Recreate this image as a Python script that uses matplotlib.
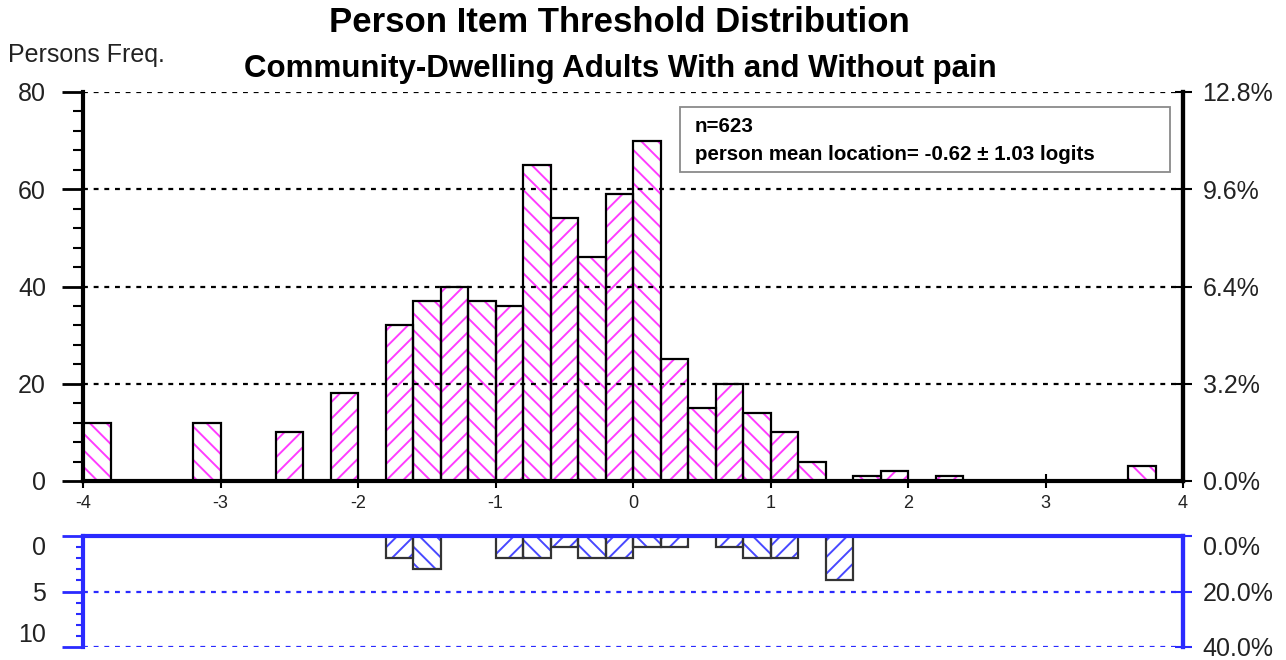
import matplotlib
matplotlib.use("Agg")
import matplotlib.pyplot as plt
from matplotlib.patches import Rectangle
from matplotlib.ticker import MultipleLocator

plt.rcParams['font.family'] = ['Liberation Sans', 'DejaVu Sans']
plt.rcParams['hatch.linewidth'] = 1.4

# ---- data ----
person_bins = [-4.0, -3.2, -2.6, -2.2, -1.8, -1.6, -1.4, -1.2, -1.0, -0.8, -0.6, -0.4,
               -0.2, 0.0, 0.2, 0.4, 0.6, 0.8, 1.0, 1.2, 1.6, 1.8, 2.2, 3.6]
person_counts = [12, 12, 10, 18, 32, 37, 40, 37, 36, 65, 54, 46,
                 59, 70, 25, 15, 20, 14, 10, 4, 1, 2, 1, 3]
item_bins = [-1.8, -1.6, -1.0, -0.8, -0.6, -0.4, -0.2, 0.0, 0.2, 0.6, 0.8, 1.0, 1.4]
item_counts = [2, 3, 2, 2, 1, 2, 2, 1, 1, 1, 2, 2, 4]
n_persons = 623
n_items = 25
x_ticks = [-4, -3, -2, -1, 0, 1, 2, 3, 4]
person_yticks = [0, 20, 40, 60, 80]
item_yticks = [0, 5, 10]
bin_width = 0.2

title = "Person Item Threshold Distribution"
subtitle = "Community-Dwelling Adults With and Without pain"
box_lines = ["n=623", "person mean location= -0.62 \u00b1 1.03 logits"]

W, H = 1286, 660
fig = plt.figure(figsize=(W / 100, H / 100), dpi=100)
PT = 0.72  # points per pixel at dpi 100

def fx(px):
    return px / W

def fy(py):
    return 1 - py / H

MAG = '#ff3cff'
BLUE = '#2a2aff'
HBLUE = '#4848ff'
LAB = '#222222'

def hatch_for(b):
    idx = int(round((b + 4) / bin_width))
    return '\\\\' if idx % 2 == 0 else '//'

# ---- top panel ----
ax1 = fig.add_axes([fx(83), fy(481), fx(1100), 389 / H])
ax1.set_xlim(-4, 4)
ax1.set_ylim(0, 80)
for b, c in zip(person_bins, person_counts):
    ax1.bar(b, c, width=bin_width, align='edge', color='white', edgecolor=MAG,
            hatch=hatch_for(b), linewidth=0, zorder=2)
ax1.bar(person_bins, person_counts, width=bin_width, align='edge', fill=False,
        edgecolor='black', linewidth=1.6, zorder=3)
for v in person_yticks[1:]:
    ax1.axhline(v, color='black', linestyle=(0, (2.2, 2.6)), linewidth=1.6, zorder=4)

ax1.spines['top'].set_visible(False)
for s in ['left', 'right', 'bottom']:
    ax1.spines[s].set_linewidth(3)
    ax1.spines[s].set_zorder(5)
ax1.set_xticks(x_ticks)
ax1.set_xticklabels([str(t) for t in x_ticks], fontsize=13, color=LAB)
ax1.tick_params(axis='x', direction='inout', length=14 * PT, width=1.5, pad=5)
ax1.set_yticks(person_yticks)
ax1.set_yticklabels([str(t) for t in person_yticks], fontsize=18, color=LAB)
ax1.yaxis.set_minor_locator(MultipleLocator(4))
ax1.tick_params(axis='y', which='major', direction='out', length=21 * PT, width=2,
                pad=16 * PT)
ax1.tick_params(axis='y', which='minor', direction='out', length=10 * PT, width=1.5)

ax1r = ax1.twinx()
ax1r.set_ylim(0, 80)
ax1r.set_yticks(person_yticks)
ax1r.set_yticklabels([f"{v / n_persons * 100:.1f}%" for v in person_yticks],
                     fontsize=18, color=LAB)
ax1r.tick_params(axis='y', direction='inout', length=17 * PT, width=1.5, pad=8)
for s in ['left', 'top', 'bottom']:
    ax1r.spines[s].set_visible(False)
ax1r.spines['right'].set_linewidth(3)

# ---- bottom panel ----
ax2 = fig.add_axes([fx(83), fy(647), fx(1100), 111 / H])
ax2.set_xlim(-4, 4)
ax2.set_ylim(10, 0)
for b, c in zip(item_bins, item_counts):
    ax2.bar(b, c, width=bin_width, align='edge', color='white', edgecolor=HBLUE,
            hatch=hatch_for(b), linewidth=0, zorder=2)
ax2.bar(item_bins, item_counts, width=bin_width, align='edge', fill=False,
        edgecolor='#333333', linewidth=1.6, zorder=3)
for v in item_yticks[1:]:
    ax2.axhline(v, color=BLUE, linestyle=(0, (2.2, 2.6)), linewidth=1.6, zorder=4)
ax2.spines['bottom'].set_visible(False)
for s in ['left', 'right', 'top']:
    ax2.spines[s].set_linewidth(3)
    ax2.spines[s].set_color(BLUE)
    ax2.spines[s].set_zorder(5)
ax2.set_xticks([])
ax2.set_yticks(item_yticks)
ax2.set_yticklabels([str(t) for t in item_yticks], fontsize=18, color=LAB)
ax2.yaxis.set_minor_locator(MultipleLocator(1))
ax2.tick_params(axis='y', which='major', direction='out', length=21 * PT, width=2,
                color=BLUE, pad=16 * PT)
ax2.tick_params(axis='y', which='minor', direction='out', length=7 * PT, width=1.5,
                color=BLUE)
labs = ax2.get_yticklabels()
labs[0].set_va('top')
labs[-1].set_va('bottom')

ax2r = ax2.twinx()
ax2r.set_ylim(10, 0)
ax2r.set_yticks(item_yticks)
ax2r.set_yticklabels([f"{v / n_items * 100:.1f}%" for v in item_yticks],
                     fontsize=18, color=LAB)
ax2r.tick_params(axis='y', direction='inout', length=17 * PT, width=1.5, color=BLUE,
                 pad=8)
for s in ['left', 'top', 'bottom']:
    ax2r.spines[s].set_visible(False)
ax2r.spines['right'].set_linewidth(3)
ax2r.spines['right'].set_color(BLUE)
rlabs = ax2r.get_yticklabels()
rlabs[0].set_va('top')

# ---- titles and texts ----
fig.text(fx(619), fy(23), title, ha='center', va='center', fontsize=25,
         fontweight='bold', color='black')
fig.text(fx(620), fy(69), subtitle, ha='center', va='center', fontsize=22.5,
         fontweight='bold', color='black')
fig.text(fx(8), fy(55), "Persons Freq.", ha='left', va='center', fontsize=18, color=LAB)

fig.add_artist(Rectangle((fx(680), fy(172)), fx(490), 65 / H, transform=fig.transFigure,
                         facecolor='white', edgecolor='#8a8a8a', linewidth=1.3, zorder=10))
fig.text(fx(695), fy(127), box_lines[0], ha='left', va='center', fontsize=14.8,
         fontweight='bold', color='black', zorder=11)
fig.text(fx(695), fy(155), box_lines[1], ha='left', va='center', fontsize=14.8,
         fontweight='bold', color='black', zorder=11)

fig.savefig("out.png", dpi=100)
